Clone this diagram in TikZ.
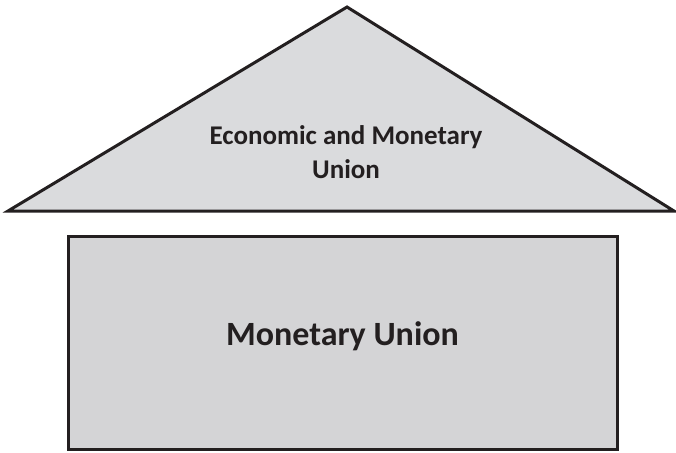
\documentclass[tikz,border=0pt]{standalone}
\usepackage{fontspec}
\setmainfont{Carlito}
\definecolor{roofgray}{RGB}{218,219,221}
\definecolor{wallgray}{RGB}{212,212,214}
\definecolor{edge}{RGB}{35,31,32}
\begin{document}
\begin{tikzpicture}[x=1pt,y=-1pt,
  panel/.style={draw=edge,line width=3pt,line join=miter},
  label/.style={font=\bfseries,text=edge,align=center,inner sep=0pt}]
\useasboundingbox (0,0) rectangle (676,452);
% roof
\filldraw[panel,fill=roofgray] (8,211) -- (347,7) -- (674,211) -- cycle;
\node[label,font=\bfseries\fontsize{27}{34}\selectfont] (emu) at (346,152) {Economic and Monetary\\Union};
% wall
\filldraw[panel,fill=wallgray] (68,236) rectangle (617,449);
\node[label,font=\bfseries\fontsize{34}{40}\selectfont] (mu) at (342.5,336) {Monetary Union};
\end{tikzpicture}
\end{document}
